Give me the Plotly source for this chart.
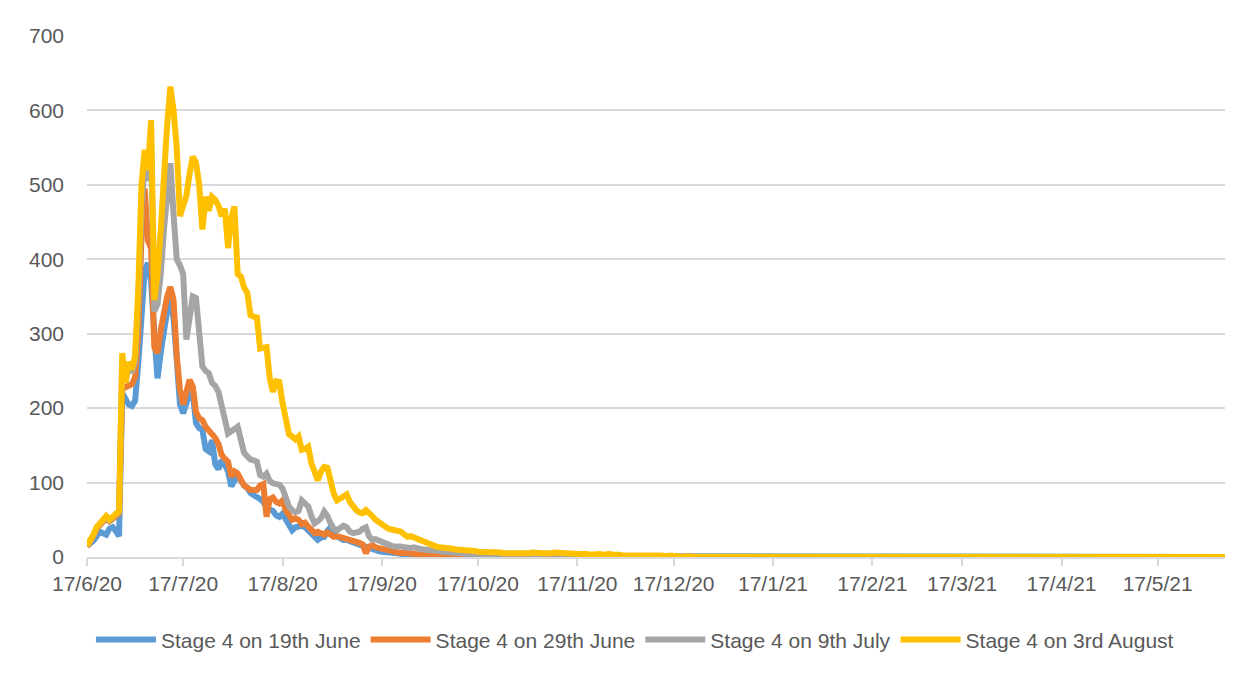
import pandas as pd
import plotly.graph_objects as go

start_date = "2020-06-17"
n_days = 356

# Daily values (days after the last listed value are 0)
stage4_19_june = [
    15, 18, 22, 28, 34, 32, 30, 38, 40, 35, 28,
    220, 210, 205, 203, 210, 260, 320, 385, 395, 370,
    300, 240, 275, 305, 330, 350, 320, 265, 205, 193,
    210, 220, 220, 180, 173, 171, 145, 142, 157, 125,
    118, 130, 124, 115, 95, 105, 110, 103, 96, 93,
    86, 83, 81, 78, 74, 67, 64, 62, 56, 54,
    58, 50, 40, 36, 40, 41, 42, 40, 36, 32,
    28, 23, 26, 27, 35, 40, 30, 27, 25, 23,
    23, 21, 20, 18, 17, 15, 14, 12, 10, 9,
    8, 7, 7, 6, 6, 5, 5, 4, 4, 3,
    3, 2, 2, 2, 1, 1, 1, 1, 0, 1,
    0, 1, 0, 0, 0,
]

stage4_29_june = [
    14, 20, 28, 38, 43, 50, 52, 48, 52, 55, 58,
    226, 228, 228, 232, 242, 300, 430, 495, 425, 415,
    282, 274, 305, 330, 350, 363, 345, 270, 225, 205,
    225, 238, 229, 195, 186, 184, 175, 170, 166, 160,
    152, 137, 132, 128, 108, 115, 112, 103, 96, 93,
    90, 90, 90, 96, 98, 54, 78, 80, 74, 72,
    76, 63, 55, 50, 52, 50, 44, 46, 41, 36,
    32, 34, 32, 30, 33, 29, 27, 28, 27, 25,
    23, 24, 22, 20, 19, 17, 5, 14, 16, 13,
    12, 11, 10, 9, 10, 8, 6, 5, 6, 5,
    4, 5, 4, 3, 4, 3, 2, 3, 2, 2,
    1, 2, 1, 1, 0, 1, 1, 0, 1, 0, 0, 1, 0,
]

stage4_9_july = [
    15, 21, 29, 39, 44, 51, 54, 49, 54, 57, 60,
    265, 235, 255, 248, 262, 340, 470, 530, 505, 560,
    330, 340, 380, 440, 490, 529, 460, 400, 392, 380,
    292, 320, 350, 348, 300, 256, 250, 247, 234, 230,
    222, 207, 185, 166, 168, 172, 175, 158, 140, 135,
    131, 130, 128, 110, 108, 112, 102, 99, 98, 97,
    92, 80, 68, 63, 60, 62, 76, 72, 68, 55,
    45, 48, 52, 61, 55, 45, 38, 36, 40, 42,
    40, 34, 32, 33, 34, 38, 40, 28, 23, 24,
    22, 19, 18, 16, 15, 14, 15, 14, 13, 12,
    12, 13, 11, 11, 10, 10, 9, 9, 8, 8,
    7, 7, 6, 6, 5, 5, 5, 4, 4, 3,
    3, 2, 2, 2, 1, 1, 1, 2, 1, 1,
    1, 0, 1, 1, 2, 1, 1, 0, 1, 1,
    1, 0, 1, 2, 1, 1, 0, 1, 1, 0,
    1, 1, 0, 1, 0, 1, 1, 0, 1, 0,
    1, 2, 1, 0, 1, 1, 0, 1, 0, 0,
]

stage4_3_august = [
    15, 22, 30, 40, 45, 52, 55, 50, 55, 58, 62,
    274, 234, 262, 252, 270, 360, 500, 547, 520, 587,
    345, 380, 440, 520, 580, 632, 600, 550, 458, 472,
    485, 515, 538, 530, 500, 440, 484, 465, 484, 480,
    472, 458, 468, 415, 455, 471, 380, 377, 362, 355,
    325, 323, 322, 280, 280, 282, 240, 222, 236, 235,
    207, 180, 165, 162, 158, 162, 144, 145, 148, 126,
    115, 103, 115, 121, 120, 100, 85, 76, 78, 82,
    84, 74, 68, 63, 60, 59, 63, 60, 55, 50,
    47, 45, 40, 38, 37, 36, 35, 34, 30, 27,
    28, 26, 24, 22, 20, 18, 16, 15, 14, 13,
    13, 12, 12, 11, 10, 10, 9, 10, 9, 8,
    8, 7, 7, 8, 7, 6, 6, 7, 6, 5,
    6, 5, 5, 6, 5, 5, 4, 5, 6, 5,
    4, 5, 5, 4, 5, 6, 5, 4, 5, 5,
    4, 5, 4, 4, 5, 4, 3, 4, 5, 4,
    3, 4, 4, 3, 4, 3, 2, 3, 2, 2,
    3, 2, 2, 1, 2, 2, 1, 2, 2, 1,
    1, 2, 1, 0, 1, 0, 1, 0,
]

series_names = ["Stage 4 on 19th June", "Stage 4 on 29th June",
                "Stage 4 on 9th July", "Stage 4 on 3rd August"]
series_colors = ["#5B9BD5", "#ED7D31", "#A5A5A5", "#FFC000"]

tick_dates = ["2020-06-17", "2020-07-17", "2020-08-17", "2020-09-17",
              "2020-10-17", "2020-11-17", "2020-12-17", "2021-01-17",
              "2021-02-17", "2021-03-17", "2021-04-17", "2021-05-17"]
tick_labels = ["17/6/20", "17/7/20", "17/8/20", "17/9/20", "17/10/20",
               "17/11/20", "17/12/20", "17/1/21", "17/2/21", "17/3/21",
               "17/4/21", "17/5/21"]

dates = pd.date_range(start_date, periods=n_days, freq="D")


def pad(values):
    return list(values) + [0] * (n_days - len(values))


all_series = [stage4_19_june, stage4_29_june, stage4_9_july, stage4_3_august]

fig = go.Figure()
for name, color, vals in zip(series_names, series_colors, all_series):
    fig.add_trace(go.Scatter(
        x=dates, y=pad(vals), mode="lines", name=name,
        line=dict(color=color, width=6, shape="linear"),
    ))

font_family = "Liberation Sans, Arial, sans-serif"
text_color = "#595959"

fig.update_layout(
    width=1236, height=660,
    margin=dict(l=79, r=19, t=28, b=111, autoexpand=False),
    paper_bgcolor="white", plot_bgcolor="white",
    font=dict(family=font_family, size=21, color=text_color),
    showlegend=True,
    legend=dict(orientation="h", x=0.4815, xanchor="center",
                y=-0.159, yanchor="middle",
                font=dict(size=21, color=text_color),
                itemwidth=60, traceorder="normal"),
)
fig.update_xaxes(
    type="date",
    range=[dates[0], dates[-1]],
    tickvals=tick_dates, ticktext=tick_labels, tickangle=0,
    showgrid=False, showline=True, linecolor="#D9D9D9", linewidth=1.5,
    ticks="outside", ticklen=7, tickcolor="#D9D9D9", tickwidth=1.5,
    tickfont=dict(size=21, color=text_color),
    zeroline=False,
)
fig.update_yaxes(
    range=[0, 700], dtick=100,
    showgrid=True, gridcolor="#D9D9D9", gridwidth=1.5,
    showline=False, zeroline=False, ticks="",
    ticklabelstandoff=22,
    tickfont=dict(size=21, color=text_color),
)

fig.write_html("out.html")
